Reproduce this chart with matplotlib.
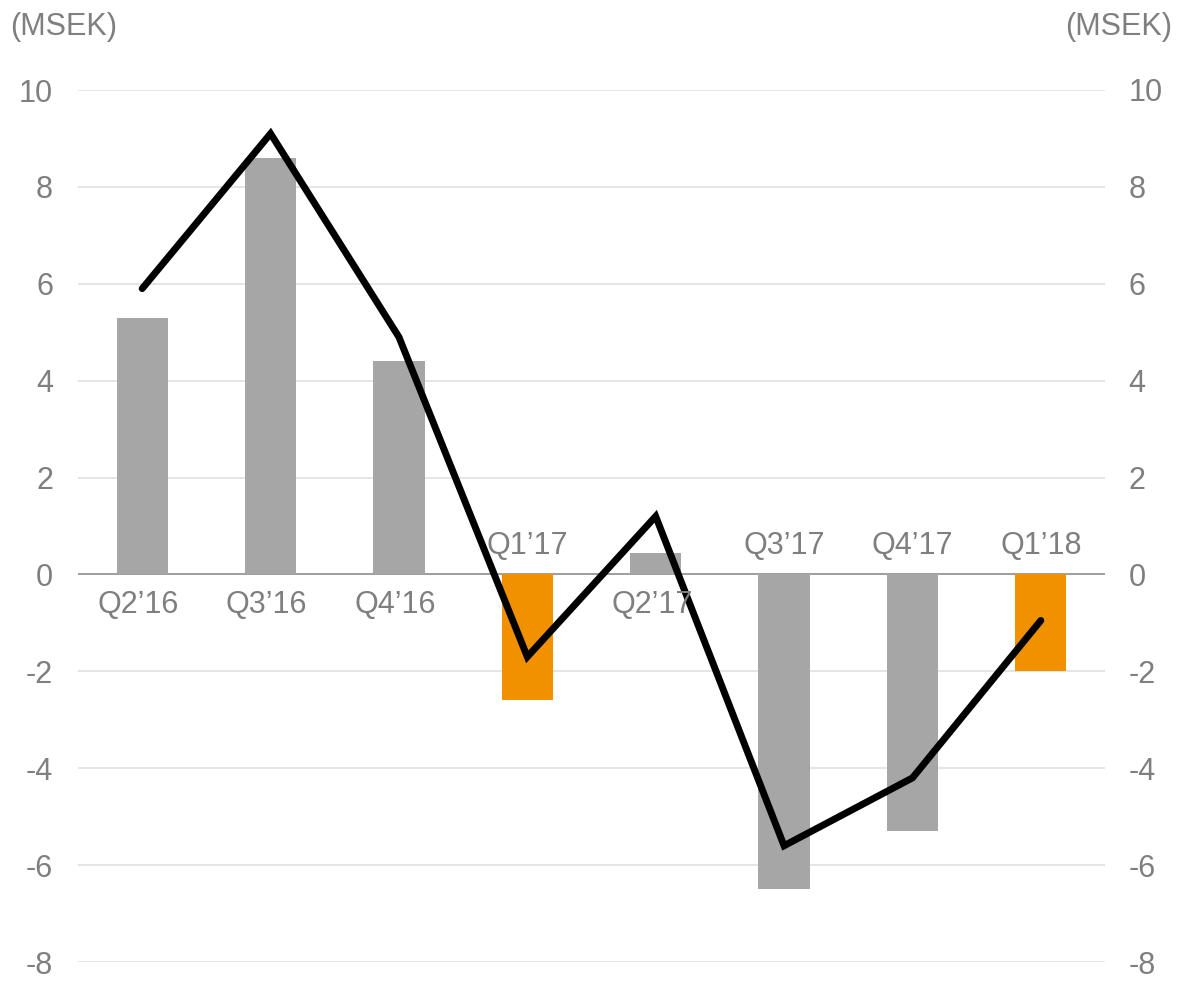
import matplotlib
matplotlib.use("Agg")
import matplotlib.pyplot as plt
import numpy as np

plt.rcParams['font.family'] = ['Liberation Sans', 'DejaVu Sans']
plt.rcParams['axes.unicode_minus'] = False

# data
quarters = ["Q2\u201916", "Q3\u201916", "Q4\u201916", "Q1\u201917", "Q2\u201917",
            "Q3\u201917", "Q4\u201917", "Q1\u201918"]
bar_values = [5.3, 8.6, 4.4, -2.6, 0.45, -6.5, -5.3, -2.0]
line_values = [5.9, 9.1, 4.9, -1.7, 1.2, -5.6, -4.2, -0.95]
bar_colors = ["#a6a6a6", "#a6a6a6", "#a6a6a6", "#f29100", "#a6a6a6",
              "#a6a6a6", "#a6a6a6", "#f29100"]
yticks = [10, 8, 6, 4, 2, 0, -2, -4, -6, -8]

GRAY_TXT = "#7f7f7f"
FS = 22

fig = plt.figure(figsize=(11.82, 9.81), dpi=100)
ax = fig.add_axes([78/1182, 1 - 962/981, (1105-78)/1182, (962-90)/981])

x = np.arange(len(quarters))
ax.set_xlim(-0.5, len(quarters) - 0.5)
ax.set_ylim(-8, 10)

for t in yticks:
    ax.axhline(t, color="#e3e3e3", lw=1.3, zorder=0)
ax.axhline(0, color="#999999", lw=1.3, zorder=1)

ax.bar(x, bar_values, width=0.4, color=bar_colors, zorder=2)
ax.plot(x, line_values, color="black", lw=5, solid_capstyle="round",
        solid_joinstyle="miter", zorder=3)

# category labels next to the zero line
for xi, q, v in zip(x, quarters, bar_values):
    if v >= 0:
        ax.text(xi - 0.03, -0.32, q, ha="center", va="top", fontsize=FS, color=GRAY_TXT)
    else:
        ax.text(xi, 0.28, q, ha="center", va="bottom", fontsize=FS, color=GRAY_TXT)

ax.set_xticks([])
ax.set_yticks(yticks)
ax.tick_params(axis="y", length=0, pad=18, labelsize=FS, labelcolor=GRAY_TXT)
for s in ax.spines.values():
    s.set_visible(False)

ax2 = ax.twinx()
ax2.set_ylim(ax.get_ylim())
ax2.set_yticks(yticks)
ax2.tick_params(axis="y", length=0, pad=17, labelsize=FS, labelcolor=GRAY_TXT)
for s in ax2.spines.values():
    s.set_visible(False)

fig.text(10/1182, 1 - 27/981, "(MSEK)", ha="left", va="center", fontsize=FS, color=GRAY_TXT)
fig.text(1172/1182, 1 - 27/981, "(MSEK)", ha="right", va="center", fontsize=FS, color=GRAY_TXT)

fig.savefig("out.png", dpi=100)
